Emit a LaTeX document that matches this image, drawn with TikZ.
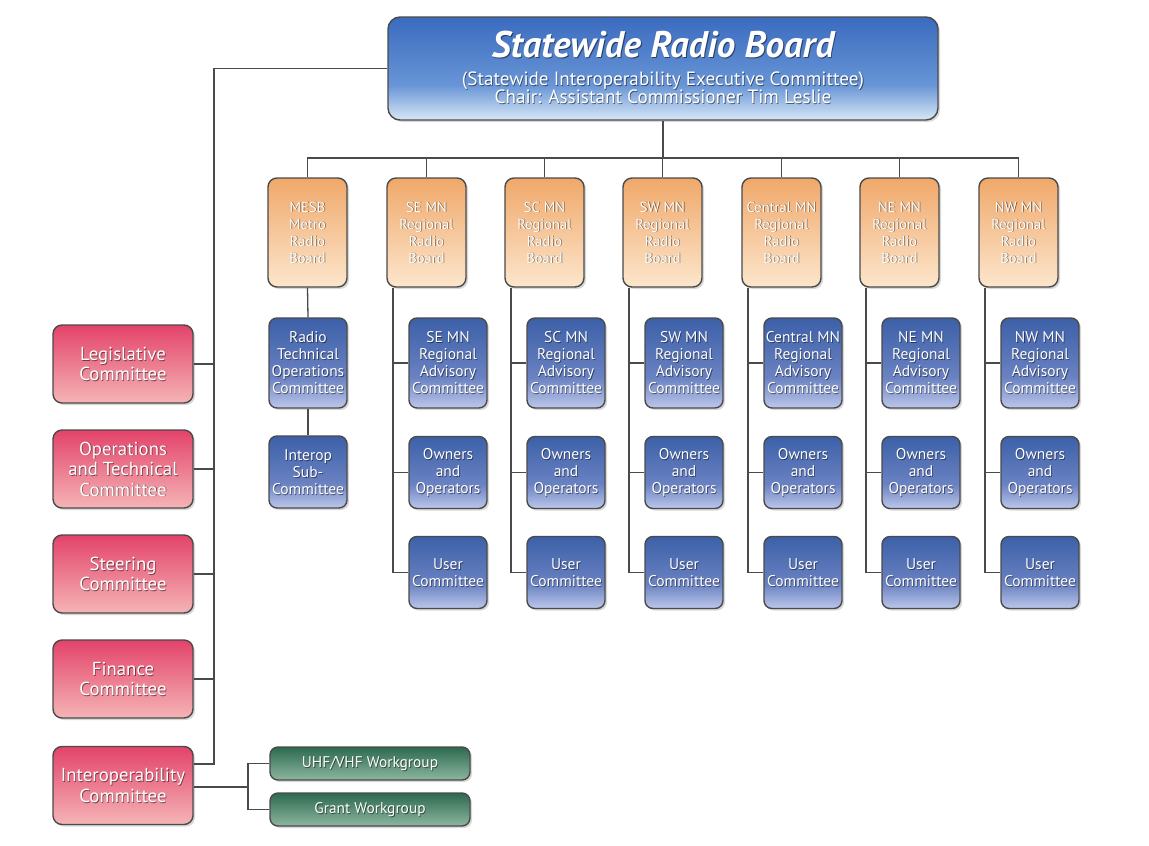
\documentclass[tikz,border=0pt]{standalone}
\usepackage{fontspec}
\setmainfont{PT Sans}
\usetikzlibrary{shadows}
\definecolor{edge}{HTML}{4A4A4A}
\definecolor{topA}{HTML}{3A6BBF}
\definecolor{topM}{HTML}{6895D6}
\definecolor{topB}{HTML}{D8E7F6}
\definecolor{orA}{HTML}{F0A86A}
\definecolor{orB}{HTML}{FCE6CC}
\definecolor{blA}{HTML}{3C60A8}
\definecolor{blM}{HTML}{6A82C2}
\definecolor{blB}{HTML}{BCC7EA}
\definecolor{rdA}{HTML}{E3436A}
\definecolor{rdB}{HTML}{F5B4B6}
\definecolor{gnA}{HTML}{2C6A4F}
\definecolor{gnB}{HTML}{8DB6A0}
\pgfdeclareverticalshading{shTop}{100bp}{color(0bp)=(topB); color(25bp)=(topB); color(42bp)=(topM); color(75bp)=(topA); color(100bp)=(topA)}
\pgfdeclareverticalshading{shOr}{100bp}{color(0bp)=(orB); color(25bp)=(orB); color(75bp)=(orA); color(100bp)=(orA)}
\pgfdeclareverticalshading{shBl}{100bp}{color(0bp)=(blB); color(25bp)=(blB); color(42bp)=(blM); color(75bp)=(blA); color(100bp)=(blA)}
\pgfdeclareverticalshading{shRd}{100bp}{color(0bp)=(rdB); color(25bp)=(rdB); color(75bp)=(rdA); color(100bp)=(rdA)}
\pgfdeclareverticalshading{shGn}{100bp}{color(0bp)=(gnB); color(25bp)=(gnB); color(75bp)=(gnA); color(100bp)=(gnA)}
\tikzset{
  box/.style={draw=edge, line width=1.4pt, inner sep=0pt,
    drop shadow={shadow xshift=2pt, shadow yshift=-2pt, opacity=0.3}},
  topbox/.style={box, shading=shTop, rounded corners=12pt, minimum width=550pt, minimum height=103pt},
  obox/.style={box, shading=shOr, rounded corners=9pt, minimum width=79pt, minimum height=109pt},
  bbox/.style={box, shading=shBl, rounded corners=8pt, minimum width=78pt},
  rbox/.style={box, shading=shRd, rounded corners=9pt, minimum width=140pt, minimum height=78pt},
  gbox/.style={box, shading=shGn, rounded corners=8pt, minimum width=200pt, minimum height=33pt},
  conn/.style={draw=edge, line width=1.3pt},
  txt/.style={align=center, text=white, inner sep=0pt},
  sh/.style={text=black, text opacity=0.5},
  otxt/.style={font=\fontsize{14.6}{17}\selectfont},
  btxt/.style={font=\fontsize{15.5}{17}\selectfont},
  rtxt/.style={font=\fontsize{18.8}{20.5}\selectfont},
  gtxt/.style={font=\fontsize{15.4}{17}\selectfont},
  ttxt/.style={font=\fontsize{37}{40}\selectfont\bfseries\itshape},
  stxt/.style={font=\fontsize{19.2}{18.5}\selectfont},
}
\newcommand\orgbox[6]{%
  \node[#1] (#3) at (#4,#5) {};
  \node[txt,#2,sh] (#3s) at ([xshift=0.8pt,yshift=-0.8pt]#3.center) {#6};
  \node[txt,#2] (#3t) at (#3.center) {#6};
}
\begin{document}
\begin{tikzpicture}[x=1pt,y=-1pt]
\fill[white] (0,0) rectangle (1149,846);
\useasboundingbox (0,0) rectangle (1149,846);

% top box
\node[topbox] (top) at (663,68.5) {};
\node[txt,ttxt,sh] (titles) at (663.9,45.9) {Statewide Radio Board};
\node[txt,ttxt] (title) at (663,45) {Statewide Radio Board};
\node[txt,stxt,sh] (subs) at (663.8,88.8) {(Statewide Interoperability Executive Committee)\\Chair: Assistant Commissioner Tim Leslie};
\node[txt,stxt] (sub) at (663,88) {(Statewide Interoperability Executive Committee)\\Chair: Assistant Commissioner Tim Leslie};

% bus
\coordinate (bus) at (0,158);

% MESB column
\orgbox{obox}{otxt}{omesb}{307.5}{232.5}{MESB\\Metro\\Radio\\Board}
\orgbox{bbox,minimum height=90pt}{btxt}{rtoc}{308}{363}{Radio\\Technical\\Operations\\Committee}
\orgbox{bbox,minimum height=72pt}{btxt}{isc}{308}{472}{Interop\\Sub-\\Committee}
\draw[conn] (omesb.south) -- (rtoc.north);
\draw[conn] (rtoc.south) -- (isc.north);

% regional columns
\foreach \n/\lx/\reg in {se/387/SE MN, sc/505/SC MN, sw/623/SW MN, ce/742/Central MN, ne/860/NE MN, nw/979/NW MN}{
  \pgfmathsetmacro\cx{\lx+39.5}
  \pgfmathsetmacro\bx{\lx+61}
  \orgbox{obox}{otxt}{o\n}{\cx}{232.5}{\reg\\Regional\\Radio\\Board}
  \orgbox{bbox,minimum height=90pt}{btxt}{a\n}{\bx}{363}{\reg\\Regional\\Advisory\\Committee}
  \orgbox{bbox,minimum height=72pt}{btxt}{w\n}{\bx}{472.5}{Owners\\and\\Operators}
  \orgbox{bbox,minimum height=72pt}{btxt}{u\n}{\bx}{572.5}{User\\Committee}
  \coordinate (c\n) at ([xshift=-33.5pt]o\n.south);
  \draw[conn] (c\n) |- (u\n.west);
  \draw[conn] (a\n.west) -- (a\n.west -| c\n);
  \draw[conn] (w\n.west) -- (w\n.west -| c\n);
  \draw[conn] (o\n.north) -- (o\n.north |- bus);
}
\draw[conn] (omesb.north) -- (omesb.north |- bus) -- (onw.north |- bus);
\draw[conn] (top.south) -- (top.south |- bus);

% committees
\orgbox{rbox}{rtxt}{leg}{123}{364}{Legislative\\Committee}
\orgbox{rbox}{rtxt}{ops}{123}{469}{Operations\\and Technical\\Committee}
\orgbox{rbox}{rtxt}{ste}{123}{574}{Steering\\Committee}
\orgbox{rbox}{rtxt}{fin}{123}{679}{Finance\\Committee}
\orgbox{rbox}{rtxt}{ic}{123}{785.5}{Interoperability\\Committee}

\coordinate (tb) at (214,764);
\draw[conn] (top.west) -| (tb) -- (ic.east |- tb);
\foreach \r in {leg,ops,ste,fin}{
  \draw[conn] (\r.east) -- (\r.east -| tb);
}

% workgroups
\orgbox{gbox}{gtxt}{uhf}{370}{763.5}{UHF/VHF Workgroup}
\orgbox{gbox}{gtxt}{grant}{370}{809.5}{Grant Workgroup}
\coordinate (gx) at (248,787);
\draw[conn] (ic.east |- gx) -- (gx);
\draw[conn] (uhf.west) -| (gx) |- (grant.west);
\end{tikzpicture}
\end{document}
